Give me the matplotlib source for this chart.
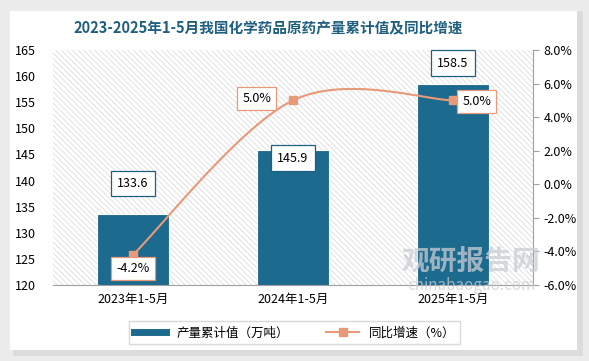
import numpy as np
import matplotlib.pyplot as plt
from matplotlib.patches import Rectangle
from matplotlib.lines import Line2D

plt.rcParams['font.family'] = ['Noto Sans CJK SC', 'DejaVu Sans']
plt.rcParams['hatch.linewidth'] = 0.5

# Données
categories = ['2023年1-5月', '2024年1-5月', '2025年1-5月']
production = [133.6, 145.9, 158.5]   # 万吨
growth = [-4.2, 5.0, 5.0]            # %

bar_color = '#1d6a8f'
line_color = '#e8997a'
title_color = '#1f5f7f'

fig = plt.figure(figsize=(5.89, 3.61), dpi=100, facecolor='#ececec')
# panneau blanc avec ombre
fig.patches.append(Rectangle((0.022, 0.015), 0.968, 0.955, transform=fig.transFigure,
                             facecolor='#dcdcdc', edgecolor='none', zorder=-2))
fig.patches.append(Rectangle((0.017, 0.030), 0.963, 0.940, transform=fig.transFigure,
                             facecolor='white', edgecolor='none', zorder=-1))

ax = fig.add_axes([0.09, 0.2105, 0.815, 0.651])
ax.set_xlim(-0.5, 2.5)
ax.set_ylim(120, 165)
ax.set_yticks(np.arange(120, 166, 5))
ax.add_patch(Rectangle((0, 0), 1, 1, transform=ax.transAxes, facecolor='white',
                       edgecolor='#d6d6d6', lw=0, hatch='\\\\\\\\\\\\', zorder=0))
ax.patch.set_alpha(0)

x = np.arange(len(categories))
ax.bar(x, production, width=0.45, color=bar_color, edgecolor='white', linewidth=0.8, zorder=2)
ax.set_xticks(x)
ax.set_xticklabels(categories, fontsize=9)
for s in ['top', 'right', 'left']:
    ax.spines[s].set_visible(False)
ax.spines['bottom'].set_color('#a0a0a0')
ax.tick_params(axis='x', length=0, pad=6)
ax.tick_params(axis='y', length=0, labelsize=9, pad=12)

# Étiquettes des barres (décalages en points)
bar_offsets = [(0, 22), (0, -6), (0, 15)]
for xi, v, (dx, dy) in zip(x, production, bar_offsets):
    ax.annotate(f'{v:.1f}', (xi, v), xytext=(dx, dy), textcoords='offset points',
                ha='center', va='center', fontsize=9, zorder=6,
                bbox=dict(boxstyle='square,pad=0.5', fc='white', ec=title_color, lw=0.9))

ax2 = ax.twinx()
ax2.set_ylim(-6, 8)
ax2.set_yticks(np.arange(-6, 8.1, 2))
ax2.set_yticklabels([f'{t:.1f}%' for t in np.arange(-6, 8.1, 2)], fontsize=9)
for s in ['top', 'left', 'bottom']:
    ax2.spines[s].set_visible(False)
ax2.spines['right'].set_color('#a0a0a0')
ax2.tick_params(axis='y', length=4, color='#a0a0a0')

# Courbe lissée (Catmull-Rom en espace écran approximatif)
k = (236 / 14) / 160.0
P = np.column_stack([x.astype(float), np.array(growth) * k])
curve = []
for i in range(len(P) - 1):
    p0 = P[i - 1] if i > 0 else P[i]
    p1, p2 = P[i], P[i + 1]
    p3 = P[i + 2] if i + 2 < len(P) else P[i + 1]
    c1 = p1 + (p2 - p0) / 6
    c2 = p2 - (p3 - p1) / 6
    t = np.linspace(0, 1, 50)[:, None]
    seg = (1 - t) ** 3 * p1 + 3 * (1 - t) ** 2 * t * c1 + 3 * (1 - t) * t ** 2 * c2 + t ** 3 * p2
    curve.append(seg)
curve = np.vstack(curve)
ax2.plot(curve[:, 0], curve[:, 1] / k, color=line_color, lw=1.5, zorder=4)
ax2.plot(x, growth, ls='none', marker='s', ms=5.5, color=line_color, zorder=5)

line_offsets = [(0, -10), (-26, 1), (17, -1)]
for xi, v, (dx, dy) in zip(x, growth, line_offsets):
    ax2.annotate(f'{v:.1f}%', (xi, v), xytext=(dx, dy), textcoords='offset points',
                 ha='center', va='center', fontsize=9, zorder=6,
                 bbox=dict(boxstyle='square,pad=0.4', fc='white', ec=line_color, lw=0.9))

# Filigrane
fig.text(0.8, 0.275, '观研报告网', fontsize=20, fontweight='bold', color='#c9cdd3',
         ha='center', va='center', alpha=0.75, zorder=1)
fig.text(0.8, 0.208, 'chinabaogao.com', fontsize=11, color='#c9cdd3',
         ha='center', va='center', alpha=0.75, zorder=1)

fig.text(0.455, 0.922, '2023-2025年1-5月我国化学药品原药产量累计值及同比增速',
         ha='center', va='center', fontsize=10.5, fontweight='bold', color=title_color)

handles = [Line2D([0], [0], color=bar_color, lw=5),
           Line2D([0], [0], color=line_color, lw=1.5, marker='s', ms=5.5)]
fig.legend(handles, ['产量累计值（万吨）', '同比增速（%）'], loc='center',
           bbox_to_anchor=(0.5, 0.078), ncol=2, fontsize=9, frameon=True,
           fancybox=False, edgecolor='#d0d0d0', handlelength=2.6, columnspacing=3)

fig.savefig('out.png', dpi=100, facecolor=fig.get_facecolor())
